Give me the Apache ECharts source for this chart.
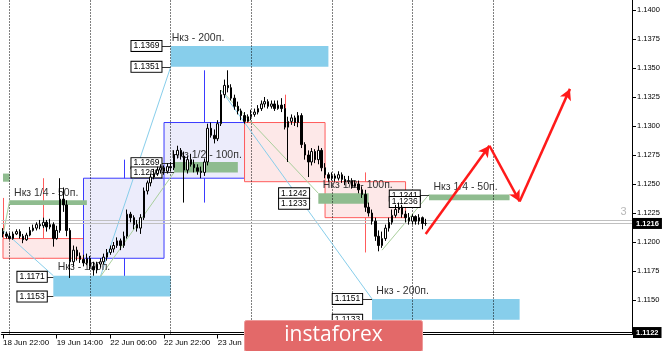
<!DOCTYPE html>
<html><head><meta charset="utf-8">
<script src="https://cdn.jsdelivr.net/npm/echarts@6/dist/echarts.min.js"></script>
<style>html,body{margin:0;padding:0;background:#fff}#c{width:665px;height:351px}</style>
</head><body><div id="c"></div>
<script>
// ---- time axis (hourly bars, weekends skipped) ----
const days = ['18 Jun','19 Jun','22 Jun','23 Jun','24 Jun','25 Jun','26 Jun','29 Jun','30 Jun'];
const firstHour = 22;
const slotCount = 188;
const categories = [];
for (let d = 0; d < days.length && categories.length < slotCount; d++) {
  for (let h = (d === 0 ? firstHour : 0); h < 24 && categories.length < slotCount; h++) {
    categories.push(days[d] + ' ' + String(h).padStart(2, '0') + ':00');
  }
}
const labelEvery = 16;
const lastLabelledBar = 111;

// ---- H1 candles: [open, close, low, high] ----
const candles = [
[1.1209,1.1207,1.1204,1.1212],[1.1207,1.1205,1.1203,1.1209],[1.1205,1.1203,1.1202,1.1208],[1.1203,1.1207,1.1202,1.1209],
[1.1207,1.1209,1.1206,1.1211],[1.1209,1.1205,1.1203,1.1211],[1.1205,1.1202,1.1199,1.1207],[1.1202,1.1206,1.1201,1.1208],
[1.1206,1.1210,1.1205,1.1213],[1.1210,1.1212,1.1209,1.1215],[1.1212,1.1215,1.1210,1.1217],[1.1215,1.1214,1.1211,1.1219],
[1.1214,1.1217,1.1212,1.1221],[1.1217,1.1213,1.1209,1.1219],[1.1213,1.1215,1.1211,1.1220],[1.1215,1.1203,1.1196,1.1217],
[1.1203,1.1210,1.1202,1.1214],[1.1210,1.1237,1.1208,1.1255],[1.1237,1.1232,1.1226,1.1247],[1.1232,1.1210,1.1205,1.1236],
[1.1210,1.1183,1.1169,1.1212],[1.1183,1.1193,1.1179,1.1197],[1.1193,1.1188,1.1184,1.1196],[1.1188,1.1185,1.1182,1.1191],
[1.1185,1.1182,1.1179,1.1189],[1.1182,1.1186,1.1180,1.1190],[1.1186,1.1179,1.1176,1.1188],[1.1179,1.1176,1.1171,1.1183],
[1.1176,1.1181,1.1173,1.1183],[1.1181,1.1183,1.1178,1.1186],[1.1183,1.1187,1.1181,1.1190],[1.1187,1.1191,1.1184,1.1194],
[1.1191,1.1194,1.1189,1.1197],[1.1194,1.1197,1.1191,1.1200],[1.1197,1.1201,1.1195,1.1204],[1.1201,1.1197,1.1193,1.1203],
[1.1197,1.1205,1.1195,1.1209],[1.1205,1.1224,1.1203,1.1228],[1.1224,1.1221,1.1217,1.1226],[1.1221,1.1215,1.1211,1.1223],
[1.1215,1.1212,1.1209,1.1219],[1.1212,1.1221,1.1207,1.1224],[1.1221,1.1244,1.1219,1.1247],[1.1244,1.1251,1.1241,1.1253],
[1.1251,1.1256,1.1248,1.1259],[1.1256,1.1259,1.1254,1.1263],[1.1259,1.1262,1.1257,1.1265],[1.1262,1.1264,1.1259,1.1267],
[1.1264,1.1261,1.1258,1.1266],[1.1261,1.1265,1.1259,1.1268],[1.1265,1.1264,1.1261,1.1269],[1.1264,1.1275,1.1262,1.1279],
[1.1275,1.1279,1.1272,1.1283],[1.1279,1.1274,1.1271,1.1281],[1.1274,1.1262,1.1234,1.1278],[1.1262,1.1271,1.1259,1.1274],
[1.1271,1.1267,1.1265,1.1276],[1.1267,1.1264,1.1260,1.1271],[1.1264,1.1261,1.1258,1.1267],[1.1261,1.1260,1.1255,1.1265],
[1.1260,1.1269,1.1257,1.1272],[1.1269,1.1298,1.1266,1.1302],[1.1298,1.1292,1.1290,1.1303],[1.1292,1.1289,1.1285,1.1297],
[1.1289,1.1302,1.1287,1.1305],[1.1302,1.1327,1.1300,1.1331],[1.1327,1.1335,1.1324,1.1340],[1.1335,1.1333,1.1329,1.1348],
[1.1333,1.1324,1.1322,1.1336],[1.1324,1.1317,1.1314,1.1327],[1.1317,1.1313,1.1310,1.1321],[1.1313,1.1309,1.1305,1.1315],
[1.1309,1.1304,1.1302,1.1312],[1.1304,1.1308,1.1303,1.1310],[1.1308,1.1310,1.1305,1.1314],[1.1310,1.1312,1.1308,1.1315],
[1.1312,1.1315,1.1310,1.1318],[1.1315,1.1319,1.1313,1.1322],[1.1319,1.1321,1.1316,1.1325],[1.1321,1.1317,1.1315,1.1323],
[1.1317,1.1319,1.1315,1.1322],[1.1319,1.1315,1.1313,1.1322],[1.1315,1.1318,1.1314,1.1322],[1.1318,1.1315,1.1312,1.1324],
[1.1315,1.1299,1.1297,1.1319],[1.1299,1.1304,1.1269,1.1308],[1.1304,1.1307,1.1301,1.1310],[1.1307,1.1303,1.1300,1.1309],
[1.1303,1.1309,1.1299,1.1312],[1.1309,1.1284,1.1281,1.1311],[1.1284,1.1275,1.1271,1.1286],[1.1275,1.1269,1.1256,1.1279],
[1.1269,1.1278,1.1266,1.1281],[1.1278,1.1271,1.1268,1.1280],[1.1271,1.1279,1.1267,1.1283],[1.1279,1.1264,1.1261,1.1281],
[1.1264,1.1258,1.1255,1.1268],[1.1258,1.1255,1.1252,1.1260],[1.1255,1.1257,1.1253,1.1260],[1.1257,1.1255,1.1252,1.1259],
[1.1255,1.1258,1.1253,1.1261],[1.1258,1.1254,1.1251,1.1260],[1.1254,1.1252,1.1249,1.1257],[1.1252,1.1253,1.1250,1.1257],
[1.1253,1.1248,1.1246,1.1255],[1.1248,1.1250,1.1247,1.1253],[1.1250,1.1245,1.1242,1.1253],[1.1245,1.1241,1.1238,1.1248],
[1.1241,1.1230,1.1226,1.1245],[1.1230,1.1225,1.1222,1.1234],[1.1225,1.1218,1.1215,1.1228],[1.1218,1.1205,1.1201,1.1221],
[1.1205,1.1197,1.1192,1.1210],[1.1197,1.1203,1.1195,1.1209],[1.1203,1.1212,1.1201,1.1215],[1.1212,1.1217,1.1209,1.1221],
[1.1217,1.1223,1.1215,1.1228],[1.1223,1.1228,1.1221,1.1232],[1.1228,1.1230,1.1225,1.1234],[1.1230,1.1224,1.1221,1.1232],
[1.1224,1.1221,1.1217,1.1227],[1.1221,1.1218,1.1215,1.1225],[1.1218,1.1222,1.1215,1.1224],[1.1222,1.1218,1.1215,1.1223],
[1.1218,1.1221,1.1215,1.1224],[1.1221,1.1216,1.1211,1.1222],[1.1216,1.1216,1.1214,1.1220]
];

// ---- price scale ----
const yMin = 1.11203, yMax = 1.14086;
const yTicks = [1.1150,1.1175,1.1200,1.1225,1.1250,1.1275,1.1300,1.1325,1.1350,1.1375,1.1400];
const bidPrice = 1.1216, askPrice = 1.1219, lowLine = 1.1122;

// ---- day separators (bar index of 00:00) ----
const separators = [2, 26, 50, 74, 98, 122, 146];

// ---- daily boxes: [startIdx, endIdx, open, close, wickTop, wickBottom] ----
const dailyBars = [
  [0, 24, 1.1203, 1.1186, 1.1255, 1.1186],
  [24, 48, 1.1186, 1.1255, 1.1271, 1.1169],
  [48, 72, 1.1255, 1.1303, 1.1348, 1.1234],
  [72, 96, 1.1303, 1.1252, 1.1327, 1.1256],
  [96, 120, 1.1252, 1.1221, 1.1260, 1.1191]
];
const prevDayEdge = [0, 1.1238, 1.1203];

// ---- zones: [startIdx, endIdx, top, bottom] ----
const greenZones = [[0, 2, 1.1259, 1.1252], [2, 25, 1.1236, 1.1232], [51, 70, 1.1269, 1.1260], [94, 109, 1.1242, 1.1233], [127, 151, 1.1241, 1.1236]];
const blueZones = [[50, 97, 1.1369, 1.1351], [15, 50, 1.1171, 1.1153], [110, 154, 1.1151, 1.1133]];

// ---- zone captions: [text, idx, price] ----
const zoneTexts = [
  ['Нкз - 200п.', 50, 1.1376],
  ['Нкз 1/2 - 100п.', 50, 1.1275],
  ['Нкз 1/4 - 50п.', 3, 1.1242],
  ['Нкз - 100п.', 16, 1.1178],
  ['Нкз 1/2 - 100п.', 95, 1.1249],
  ['Нкз 1/4 - 50п.', 128, 1.1247],
  ['Нкз - 200п.', 111, 1.1158]
];
// ---- price tags: [text, idx, price] ----
const priceTags = [
  ['1.1369', 38, 1.1369], ['1.1351', 38, 1.1351], ['1.1269', 38, 1.1268], ['1.1260', 38, 1.1260],
  ['1.1171', 4, 1.1170], ['1.1153', 4, 1.1153],
  ['1.1242', 82, 1.1242], ['1.1233', 82, 1.1233],
  ['1.1241', 115, 1.1240], ['1.1236', 115, 1.12345],
  ['1.1151', 98, 1.1151], ['1.1133', 98, 1.1133]
];
// ---- tag connectors: [fromIdx, toIdx, price] ----
const connectors = [[47, 50, 1.1369], [47, 50, 1.1351], [47, 51, 1.1268], [47, 51, 1.1260], [12, 15, 1.1170], [12, 15, 1.1153], [107, 110, 1.1151], [107, 110, 1.1133], [124, 127, 1.1240]];
// ---- trend lines: [idx1, p1, idx2, p2, kind] ----
const trendLines = [
  [0, 1.1210, 15, 1.1171, 'b'],
  [29, 1.1170, 50, 1.1351, 'b'],
  [65, 1.1331, 110, 1.1151, 'b'],
  [0, 1.1206, 2, 1.1236, 'g'],
  [29, 1.1170, 51, 1.1260, 'g'],
  [65, 1.1331, 94, 1.1242, 'g'],
  [113, 1.1193, 127, 1.1241, 'g']
];
// ---- forecast path: [idx, price] ----
const forecast = [[126, 1.1207], [145, 1.1283], [154, 1.1235], [169, 1.1332]];
const markerNumber = ['3', 185, 1.1226];

// ---------------------------------------------------------------
const BULL = {fill: '#ececfb', border: '#3a3aff'};
const BEAR = {fill: '#fde8e8', border: '#ff5c5c'};
const GREEN = '#8fbc8f', SKY = '#87ceeb';
const FONT = 'Liberation Sans, Arial, sans-serif';

const wickLines = dailyBars.map(d => {
  const c = d[3] >= d[2] ? BULL.border : BEAR.border;
  const mid = (d[0] + d[1]) / 2;
  return [{coord: [mid, d[4]], lineStyle: {color: c, width: 1, type: 'solid'}}, {coord: [mid, d[5]]}];
});
wickLines.push([{coord: [prevDayEdge[0], prevDayEdge[1]], lineStyle: {color: BEAR.border, width: 1, type: 'solid'}}, {coord: [prevDayEdge[0], prevDayEdge[2]]}]);

const bodyAreas = dailyBars.map(d => {
  const s = d[3] >= d[2] ? BULL : BEAR;
  return [{coord: [d[0], Math.max(d[2], d[3])], itemStyle: {color: s.fill, borderColor: s.border, borderWidth: 1, opacity: 1}},
          {coord: [d[1], Math.min(d[2], d[3])]}];
});
const zoneAreas = greenZones.map(z => [{coord: [z[0], z[2]], itemStyle: {color: GREEN, opacity: 1, borderWidth: 0}}, {coord: [z[1], z[3]]}])
  .concat(blueZones.map(z => [{coord: [z[0], z[2]], itemStyle: {color: SKY, opacity: 1, borderWidth: 0}}, {coord: [z[1], z[3]]}]));

const lineData = [];
separators.forEach(i => lineData.push({xAxis: i, lineStyle: {color: '#000', width: 1, type: [1, 2]}}));
trendLines.forEach(t => lineData.push([{coord: [t[0], t[1]], lineStyle: {color: t[4] === 'b' ? SKY : '#a9cf9c', width: 1, type: 'solid'}}, {coord: [t[2], t[3]]}]));
connectors.forEach(c => lineData.push([{coord: [c[0], c[2]], lineStyle: {color: '#333', width: 1, type: 'solid'}}, {coord: [c[1], c[2]]}]));

const boxLabel = txt => ({show: true, position: 'end', distance: 1, formatter: txt, color: '#fff', backgroundColor: '#000',
  fontSize: 7.5, fontFamily: FONT, fontWeight: 'bold', padding: [2, 3, 1, 3]});
const levelLines = [
  {yAxis: askPrice, lineStyle: {color: '#c0c0c0', width: 1, type: 'solid'}, label: {show: false}},
  {yAxis: bidPrice, lineStyle: {color: '#c0c0c0', width: 1, type: 'solid'}, label: boxLabel(bidPrice.toFixed(4))},
  {yAxis: lowLine, lineStyle: {color: '#000', width: 1, type: 'solid'}, label: boxLabel(lowLine.toFixed(4))}
];

const textPoints = zoneTexts.map(t => ({coord: [t[1], t[2]], label: {show: true, position: 'right', distance: 1, formatter: t[0],
  color: '#333', fontSize: 10.5, fontFamily: FONT}}))
  .concat(priceTags.map(t => ({coord: [t[1], t[2]], label: {show: true, position: 'right', distance: 1, formatter: t[0],
  color: '#000', fontSize: 8.5, fontFamily: FONT, backgroundColor: '#fff', borderColor: '#000', borderWidth: 1, padding: [1, 2, 0, 2], lineHeight: 9}})))
  .concat([{coord: [markerNumber[1], markerNumber[2]], label: {show: true, position: 'inside', formatter: markerNumber[0], color: '#b8b8b8', fontSize: 11, fontFamily: FONT}}]);

const arrowData = [];
for (let k = 0; k < forecast.length - 1; k++) {
  arrowData.push([{coord: forecast[k]}, {coord: forecast[k + 1]}]);
}

const showTimeLabel = (idx) => idx % labelEvery === 0 && idx <= lastLabelledBar;

const chart = echarts.init(document.getElementById('c'), null, {renderer: 'canvas'});
chart.setOption({
  animation: false,
  backgroundColor: '#fff',
  grid: {left: 1, right: 33, top: 0, bottom: 16.5, containLabel: false},
  xAxis: {
    type: 'category', data: categories, boundaryGap: true,
    axisLine: {show: true, lineStyle: {color: '#000', width: 1}},
    axisTick: {show: true, alignWithLabel: true, length: 4, lineStyle: {color: '#000'}, interval: showTimeLabel},
    axisLabel: {interval: showTimeLabel, align: 'left', color: '#000', fontSize: 8, fontFamily: FONT, margin: 4},
    splitLine: {show: false}
  },
  yAxis: {
    type: 'value', position: 'right', min: yMin, max: yMax,
    axisLine: {show: true, lineStyle: {color: '#000', width: 1}},
    axisTick: {show: true, length: 4, lineStyle: {color: '#000'}, customValues: yTicks},
    axisLabel: {customValues: yTicks, formatter: v => v.toFixed(4), color: '#000', fontSize: 7.5, fontFamily: FONT, margin: 5},
    splitLine: {show: false}
  },
  series: [
    {type: 'line', data: [], silent: true,
      markLine: {z: 1, silent: true, precision: 6, symbol: ['none', 'none'], label: {show: false}, data: wickLines}},
    {type: 'line', data: [], silent: true,
      markArea: {z: 2, silent: true, data: bodyAreas}},
    {type: 'line', data: [], silent: true,
      markArea: {z: 3, silent: true, data: zoneAreas}},
    {type: 'line', data: [], silent: true,
      markLine: {z: 4, silent: true, precision: 6, symbol: ['none', 'none'], label: {show: false}, data: lineData.concat(levelLines)}},
    {type: 'line', data: [], silent: true,
      markPoint: {z: 5, silent: true, symbol: 'circle', symbolSize: 0, itemStyle: {color: 'transparent'}, data: textPoints}},
    {type: 'candlestick', z: 6, data: candles, barWidth: 2, silent: true,
      itemStyle: {color: '#ffffff', color0: '#000000', borderColor: '#000000', borderColor0: '#000000', borderWidth: 1}},
    {type: 'line', data: [], silent: true,
      markLine: {z: 7, silent: true, precision: 6, symbol: ['none', 'arrow'], symbolSize: [9, 11], label: {show: false},
        lineStyle: {color: '#ff1a1a', width: 2.5, type: 'solid'}, data: arrowData}}
  ],
  graphic: [{
    type: 'group', left: 244, top: 320, z: 100,
    children: [
      {type: 'rect', z: 100, shape: {x: 0, y: 0, width: 178, height: 31, r: 2}, style: {fill: '#e36969', stroke: '#ee9a9a', lineWidth: 1}},
      {type: 'text', z: 101, style: {text: 'instaforex', x: 89, y: 15, align: 'center', verticalAlign: 'middle', fill: '#ffffff', font: '21px "Open Sans", sans-serif'}}
    ]
  }]
});
</script>
</body></html>
